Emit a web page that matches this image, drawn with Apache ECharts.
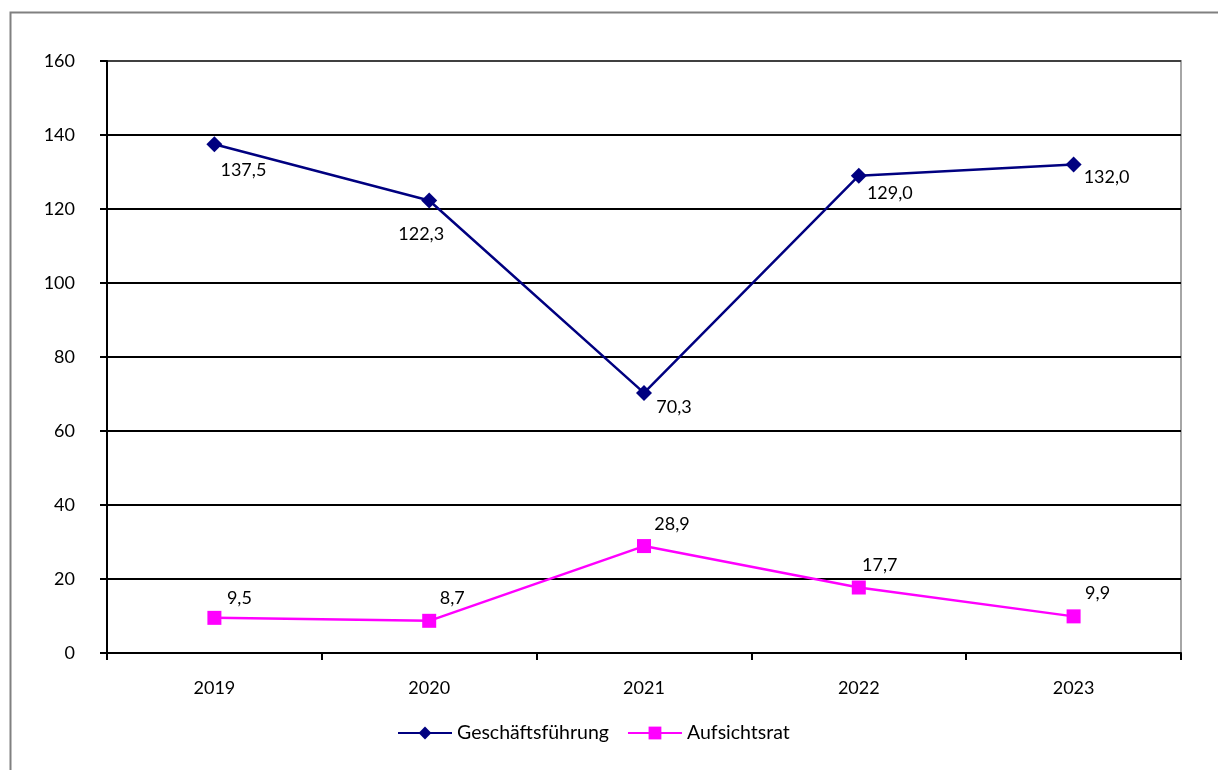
<!DOCTYPE html>
<html>
<head>
<meta charset="utf-8">
<script src="https://cdn.jsdelivr.net/npm/echarts@6/dist/echarts.min.js"></script>
<style>
html,body{margin:0;padding:0;background:#fff;}
#chart{width:1218px;height:770px;}
</style>
</head>
<body>
<div id="chart"></div>
<script>
const categories = ['2019', '2020', '2021', '2022', '2023'];
const geschaeftsfuehrung = [137.5, 122.3, 70.3, 129.0, 132.0];
const aufsichtsrat = [9.5, 8.7, 28.9, 17.7, 9.9];
const seriesNames = ['Geschäftsführung', 'Aufsichtsrat'];

// label placement (offsets from the point, in px)
const gfLabelOffsets = [[29, 26], [-8, 34], [30, 14], [31, 17], [33, 13]];
const arLabelOffsets = [[25, -20], [23, -23], [28, -22], [21, -22], [24, -23]];

const FONT = 'Lato';
const fmt = v => v.toFixed(1).replace('.', ',');

function withLabels(values, offsets) {
  return values.map((v, i) => ({ value: v, label: { offset: offsets[i] } }));
}

const chart = echarts.init(document.getElementById('chart'));
chart.setOption({
  animation: false,
  textStyle: { fontFamily: FONT },
  graphic: [{
    type: 'rect', left: 8, top: 10, silent: true, z: -10,
    shape: { width: 1240, height: 800 },
    style: { fill: 'none', stroke: '#808080', lineWidth: 2 }
  }],
  grid: {
    left: 107, right: 37, top: 61, bottom: 117,
    show: true, borderColor: '#a6a6a6', borderWidth: 2, backgroundColor: 'transparent'
  },
  legend: {
    bottom: 22, left: 392,
    itemWidth: 54, itemHeight: 16, itemGap: 18,
    textStyle: { fontFamily: FONT, fontSize: 19.5, color: '#000' },
    data: seriesNames
  },
  xAxis: {
    type: 'category', data: categories, boundaryGap: true,
    axisLine: { lineStyle: { color: '#000', width: 2 } },
    axisTick: { show: true, length: 7, inside: false, alignWithLabel: false, lineStyle: { color: '#000', width: 2 } },
    axisLabel: { color: '#000', fontSize: 18, margin: 26, fontFamily: FONT }
  },
  yAxis: {
    type: 'value', min: 0, max: 160, interval: 20,
    axisLine: { show: true, lineStyle: { color: '#000', width: 2 } },
    axisTick: { show: true, length: 7, lineStyle: { color: '#000', width: 2 } },
    axisLabel: { color: '#000', fontSize: 18, margin: 32, fontFamily: FONT },
    splitLine: { show: true, lineStyle: { color: ['#000', '#000', '#000', '#000', '#000', '#000', '#000', '#000', '#404040'], width: 2 } }
  },
  series: [
    {
      name: seriesNames[0], type: 'line',
      data: withLabels(geschaeftsfuehrung, gfLabelOffsets),
      symbol: 'diamond', symbolSize: 16,
      itemStyle: { color: '#000080' },
      lineStyle: { color: '#000080', width: 2.5 },
      label: { show: true, position: 'inside', color: '#000', fontSize: 18, fontFamily: FONT,
        formatter: p => fmt(p.value) }
    },
    {
      name: seriesNames[1], type: 'line',
      data: withLabels(aufsichtsrat, arLabelOffsets),
      symbol: 'rect', symbolSize: 14,
      itemStyle: { color: '#ff00ff' },
      lineStyle: { color: '#ff00ff', width: 2.5 },
      label: { show: true, position: 'inside', color: '#000', fontSize: 18, fontFamily: FONT,
        formatter: p => fmt(p.value) }
    }
  ]
});
</script>
</body>
</html>
